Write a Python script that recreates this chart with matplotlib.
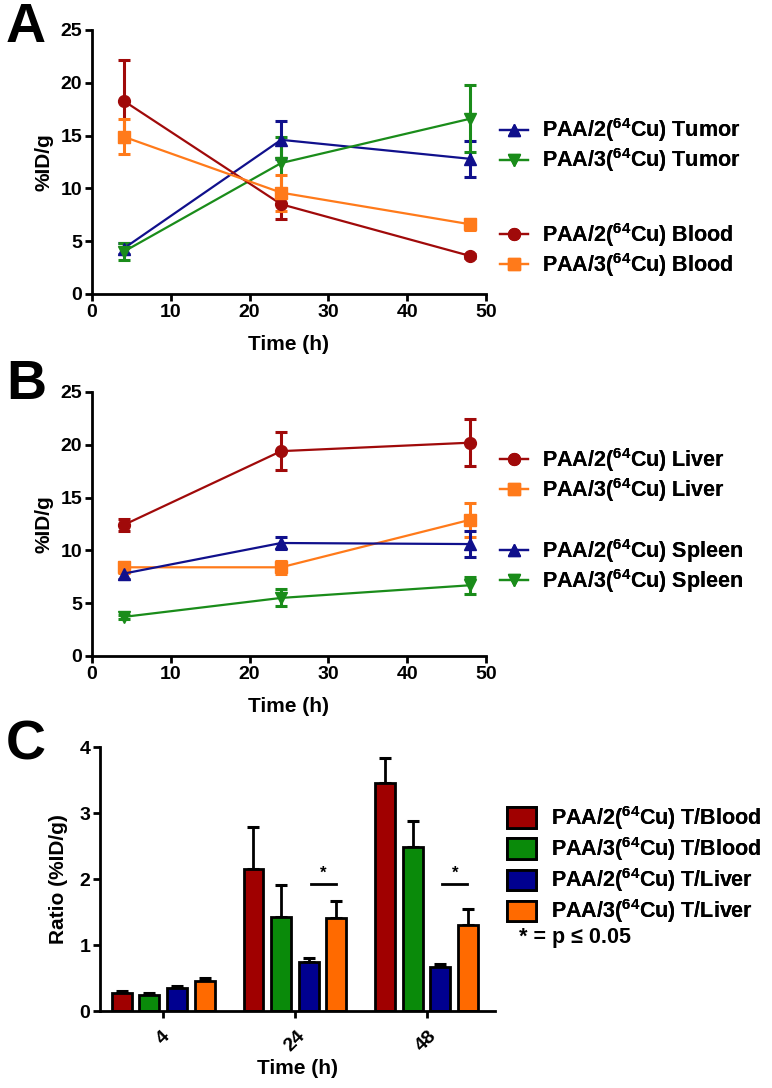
"""Biodistribution of PAA/2(64Cu) and PAA/3(64Cu): tumor/blood, liver/spleen, ratios."""

import matplotlib

matplotlib.use("Agg")
import matplotlib.pyplot as plt
import numpy as np
from matplotlib.lines import Line2D
from matplotlib.patches import Patch

plt.rcParams["font.family"] = ["Liberation Sans", "DejaVu Sans"]
plt.rcParams["font.weight"] = "bold"
plt.rcParams["mathtext.fontset"] = "custom"
plt.rcParams["mathtext.rm"] = "Liberation Sans:bold"
plt.rcParams["mathtext.it"] = "Liberation Sans:bold"
plt.rcParams["mathtext.bf"] = "Liberation Sans:bold"
plt.rcParams["mathtext.default"] = "rm"

# ---- data ----
time_h = [4, 24, 48]

tumor_paa2 = [4.3, 14.6, 12.8]
tumor_paa2_sd = [0.5, 1.8, 1.7]
tumor_paa3 = [4.0, 12.4, 16.6]
tumor_paa3_sd = [0.8, 2.5, 3.2]
blood_paa2 = [18.3, 8.5, 3.6]
blood_paa2_sd = [3.9, 1.4, 0.2]
blood_paa3 = [14.9, 9.6, 6.6]
blood_paa3_sd = [1.65, 1.7, 0.5]

liver_paa2 = [12.4, 19.4, 20.2]
liver_paa2_sd = [0.6, 1.8, 2.2]
liver_paa3 = [8.4, 8.4, 12.9]
liver_paa3_sd = [0.5, 0.6, 1.6]
spleen_paa2 = [7.8, 10.7, 10.6]
spleen_paa2_sd = [0.5, 0.6, 1.2]
spleen_paa3 = [3.7, 5.5, 6.7]
spleen_paa3_sd = [0.2, 0.8, 0.8]

ratio_groups = ["4", "24", "48"]
t_blood_paa2 = [0.27, 2.15, 3.45]
t_blood_paa2_sd = [0.03, 0.64, 0.39]
t_blood_paa3 = [0.25, 1.43, 2.48]
t_blood_paa3_sd = [0.02, 0.48, 0.40]
t_liver_paa2 = [0.35, 0.75, 0.66]
t_liver_paa2_sd = [0.03, 0.05, 0.05]
t_liver_paa3 = [0.45, 1.41, 1.30]
t_liver_paa3_sd = [0.05, 0.25, 0.24]
significant_groups = ["24", "48"]

RED = "#A00A0A"
GREEN = "#1A8C1A"
BLUE = "#10108C"
ORANGE = "#FF7A1A"
BAR_ORANGE = "#FF6A00"
BAR_BLUE = "#000090"
BAR_GREEN = "#0A8A0A"
BAR_RED = "#A00000"

W, H = 772, 1088
TICK_FS = 14
LABEL_FS = 15
LEGEND_FS = 15.5


def fx(px):
    return px / W


def fy(py):
    return 1 - py / H


def style_axes(ax, pad=2):
    for side in ("top", "right"):
        ax.spines[side].set_visible(False)
    for side in ("left", "bottom"):
        ax.spines[side].set_linewidth(2)
    ax.tick_params(width=2, length=5, labelsize=TICK_FS, direction="out", pad=pad)


def line_series(ax, x, y, sd, color, marker):
    cont = ax.errorbar(
        x, y, yerr=sd, color=color, marker=marker, markersize=8.5, lw=1.6,
        elinewidth=2.2, capsize=4.5, capthick=2.2, clip_on=False,
    )
    return cont[0]


def time_panel(fig, rect, series, groups, letter, letter_y):
    ax = fig.add_axes(rect)
    handles = []
    for y, sd, color, marker, label in series:
        line_series(ax, time_h, y, sd, color, marker)
        handles.append(Line2D([], [], color=color, marker=marker, markersize=8.5,
                              lw=1.6, label=label))
    ax.set_xlim(0, 50)
    ax.set_ylim(0, 25)
    ax.set_xticks(np.arange(0, 51, 10))
    ax.set_yticks(np.arange(0, 26, 5))
    ax.set_xlabel("Time (h)", fontsize=LABEL_FS, fontweight="bold", labelpad=10)
    ax.set_ylabel("%ID/g", fontsize=LABEL_FS, fontweight="bold", labelpad=5)
    style_axes(ax)
    for (i0, i1), cy in groups:
        leg = fig.legend(
            handles=handles[i0:i1], loc="center left",
            bbox_to_anchor=(fx(500), fy(cy)), frameon=False,
            fontsize=LEGEND_FS, handlelength=1.3, handletextpad=0.65,
            borderpad=0, borderaxespad=0, labelspacing=0.1,
        )
        fig.add_artist(leg)
    fig.text(fx(6), fy(letter_y), letter, fontsize=40, fontweight="bold",
             va="center", ha="left")
    return ax


fig = plt.figure(figsize=(W / 100, H / 100), dpi=100)

lbl = r"PAA/{}($^{{64}}$Cu) {}"

time_panel(
    fig,
    [fx(92), fy(294), fx(486) - fx(92), fy(30) - fy(294)],
    [
        (tumor_paa2, tumor_paa2_sd, BLUE, "^", lbl.format(2, "Tumor")),
        (tumor_paa3, tumor_paa3_sd, GREEN, "v", lbl.format(3, "Tumor")),
        (blood_paa2, blood_paa2_sd, RED, "o", lbl.format(2, "Blood")),
        (blood_paa3, blood_paa3_sd, ORANGE, "s", lbl.format(3, "Blood")),
    ],
    [((0, 2), 145.5), ((2, 4), 250)],
    "A", 28,
)

time_panel(
    fig,
    [fx(92), fy(656), fx(486) - fx(92), fy(392) - fy(656)],
    [
        (liver_paa2, liver_paa2_sd, RED, "o", lbl.format(2, "Liver")),
        (liver_paa3, liver_paa3_sd, ORANGE, "s", lbl.format(3, "Liver")),
        (spleen_paa2, spleen_paa2_sd, BLUE, "^", lbl.format(2, "Spleen")),
        (spleen_paa3, spleen_paa3_sd, GREEN, "v", lbl.format(3, "Spleen")),
    ],
    [((0, 2), 475), ((2, 4), 566)],
    "B", 385,
)

# ---- panel C: bar ratios ----
axc = fig.add_axes([fx(100), fy(1011), fx(495) - fx(100), fy(747) - fy(1011)])
x = np.arange(len(ratio_groups))
offsets = [-0.315, -0.105, 0.105, 0.315]
bar_w = 0.15
bar_series = [
    (t_blood_paa2, t_blood_paa2_sd, BAR_RED, lbl.format(2, "T/Blood")),
    (t_blood_paa3, t_blood_paa3_sd, BAR_GREEN, lbl.format(3, "T/Blood")),
    (t_liver_paa2, t_liver_paa2_sd, BAR_BLUE, lbl.format(2, "T/Liver")),
    (t_liver_paa3, t_liver_paa3_sd, BAR_ORANGE, lbl.format(3, "T/Liver")),
]
patches = []
for off, (vals, sd, color, label) in zip(offsets, bar_series):
    axc.bar(x + off, vals, width=bar_w, color=color, edgecolor="black",
            linewidth=2, zorder=2)
    axc.errorbar(x + off, vals, yerr=[np.zeros(len(vals)), sd], fmt="none",
                 ecolor="black", elinewidth=2, capsize=4, capthick=2.2, zorder=1)
    patches.append(Patch(facecolor=color, edgecolor="black", linewidth=2,
                         label=label))

for g in significant_groups:
    gi = ratio_groups.index(g)
    axc.plot([gi + 0.12, gi + 0.31], [1.92, 1.92], color="black", lw=2)
    axc.text(gi + 0.215, 1.97, "*", ha="center", va="bottom", fontsize=12,
             fontweight="bold")

axc.set_xlim(-0.48, 2.52)
axc.set_ylim(0, 4)
axc.set_yticks(np.arange(0, 5, 1))
axc.set_xticks(x)
axc.set_xticklabels(ratio_groups, rotation=45, ha="center")
axc.set_xlabel("Time (h)", fontsize=LABEL_FS, fontweight="bold", labelpad=3)
axc.set_ylabel("Ratio (%ID/g)", fontsize=LABEL_FS, fontweight="bold", labelpad=8)
style_axes(axc, pad=2)
axc.tick_params(axis="x", pad=7)

legc = fig.legend(
    handles=patches, loc="center left", bbox_to_anchor=(fx(507), fy(864.7)),
    frameon=False, fontsize=LEGEND_FS, handlelength=1.35, handleheight=1.1,
    handletextpad=0.7, borderpad=0, borderaxespad=0, labelspacing=0.15,
)
fig.add_artist(legc)
fig.text(fx(519), fy(938), "* = p ≤ 0.05", fontsize=LEGEND_FS, fontweight="bold",
         va="center", ha="left")
fig.text(fx(6), fy(745), "C", fontsize=40, fontweight="bold", va="center",
         ha="left")

fig.savefig("out.png", dpi=100)
